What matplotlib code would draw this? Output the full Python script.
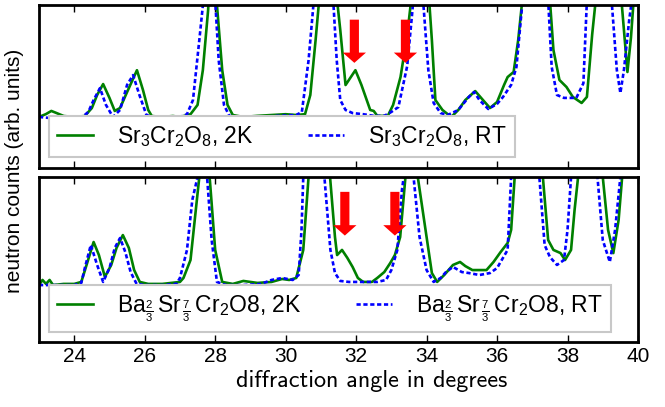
import matplotlib
matplotlib.use("Agg")
import matplotlib.pyplot as plt

plt.rcParams['font.family'] = ['Liberation Sans', 'DejaVu Sans']
plt.rcParams['mathtext.fontset'] = 'custom'
plt.rcParams['mathtext.rm'] = 'Liberation Sans'
plt.rcParams['mathtext.it'] = 'Liberation Sans:italic'
plt.rcParams['mathtext.default'] = 'regular'

# diffraction angle (deg) vs neutron counts (arb. units), Sr3Cr2O8
sr_2k_angle = [23.0, 23.2, 23.35, 23.5, 23.7, 24.0, 24.3, 24.5, 24.65, 24.82, 25.0, 25.15, 25.3, 25.5,
               25.78, 25.95, 26.1, 26.2, 26.5, 26.8, 27.0, 27.3, 27.5, 27.65, 27.8, 27.9, 28.05, 28.2,
               28.35, 28.5, 28.8, 29.2, 29.6, 30.0, 30.3, 30.55, 30.7, 30.85, 31.0, 31.2, 31.4, 31.55,
               31.7, 31.85, 31.98, 32.15, 32.4, 32.5, 32.6, 32.9, 33.05, 33.26, 33.45, 33.6, 33.8,
               34.05, 34.15, 34.25, 34.45, 34.7, 34.9, 35.1, 35.38, 35.6, 35.8, 36.0, 36.2, 36.3,
               36.47, 36.6, 36.75, 36.95, 37.2, 37.5, 37.6, 37.77, 37.97, 38.15, 38.4, 38.55, 38.7,
               38.8, 39.1, 39.4, 39.53, 39.7, 39.8, 39.9, 40.0]
sr_2k_counts = [31.3, 33.1, 35.0, 33.7, 31.9, 31.3, 31.9, 36.8, 44.8, 51.5, 43.0, 35.0, 36.8, 46.6,
                60.0, 47.9, 35.6, 31.9, 31.3, 31.9, 31.3, 33.0, 38.7, 60.0, 97.0, 140, 100, 60.0,
                38.7, 32.5, 31.3, 32.0, 32.5, 33.0, 32.5, 33.0, 44.8, 78.5, 115, 140, 115, 84.7,
                50.9, 55.8, 60.0, 51.0, 35.6, 35.0, 32.0, 32.0, 38.7, 55.8, 81.6, 110, 140,
                110, 78.5, 41.7, 35.6, 31.3, 35.6, 41.7, 47.2, 41.7, 36.8, 40.5, 51.0, 55.8,
                58.9, 78.5, 110, 140, 140, 103, 72.4, 54.0, 49.7, 43.6, 39.9, 43.6, 82.0,
                103, 140, 140, 103, 58.9, 80.0, 110, 140]

sr_rt_angle = [23.0, 23.3, 23.6, 23.8, 24.0, 24.2, 24.4, 24.55, 24.73, 24.9, 25.1, 25.3, 25.5, 25.67,
               25.85, 26.05, 26.3, 26.7, 27.0, 27.2, 27.37, 27.55, 27.7, 27.85, 28.0, 28.1, 28.25,
               28.4, 28.7, 29.2, 29.8, 30.3, 30.46, 30.65, 30.8, 31.0, 31.2, 31.35, 31.45, 31.55,
               31.7, 31.9, 32.2, 32.5, 32.8, 33.0, 33.2, 33.45, 33.6, 33.75, 33.9, 34.05, 34.2,
               34.4, 34.6, 34.9, 35.2, 35.35, 35.5, 35.75, 36.0, 36.17, 36.4, 36.55, 36.7, 36.85,
               37.2, 37.45, 37.55, 37.7, 37.9, 38.25, 38.45, 38.55, 38.8, 39.25, 39.4, 39.5, 39.6,
               39.75, 39.9, 40.0]
sr_rt_counts = [31.3, 30.7, 29.4, 28.2, 29.4, 30.7, 34.4, 41.7, 49.0, 38.7, 31.3, 35.6, 51.0, 57.0,
                44.8, 32.5, 30.7, 31.3, 31.3, 33.0, 41.7, 78.5, 110, 140, 103, 66.0, 38.7,
                32.0, 31.3, 31.3, 32.0, 32.5, 34.4, 66.0, 103, 140, 140, 103, 66.0, 41.7,
                35.6, 33.7, 33.0, 32.0, 32.0, 34.4, 37.4, 62.6, 97.0, 140, 103, 60.0, 39.9,
                33.7, 32.5, 35.6, 43.6, 46.6, 41.7, 36.2, 39.3, 43.6, 51.0, 62.0, 97.0, 140,
                140, 103, 62.0, 44.8, 43.0, 43.0, 52.0, 103, 140, 103, 60.0, 46.0, 60.0,
                90.8, 115, 140]

# Ba2/3 Sr7/3 Cr2O8
ba_2k_angle = [23.0, 23.1, 23.2, 23.3, 23.4, 23.7, 24.0, 24.2, 24.35, 24.55, 24.7, 24.87, 25.05, 25.2,
               25.38, 25.55, 25.7, 25.86, 26.1, 26.5, 27.0, 27.1, 27.3, 27.45, 27.55, 27.7, 27.85,
               28.0, 28.2, 28.5, 28.8, 29.2, 29.6, 29.9, 30.1, 30.3, 30.5, 30.65, 30.8, 31.1, 31.26,
               31.4, 31.46, 31.6, 31.75, 31.9, 32.05, 32.2, 32.45, 32.6, 32.8, 32.97, 33.1, 33.25,
               33.4, 33.55, 33.75, 34.0, 34.15, 34.3, 34.5, 34.75, 34.95, 35.1, 35.3, 35.7, 35.9,
               36.1, 36.3, 36.4, 36.5, 36.7, 37.1, 37.3, 37.45, 37.6, 37.8, 37.93, 38.1, 38.2, 38.3,
               38.6, 39.0, 39.15, 39.3, 39.45, 39.55, 39.8, 40.0]
ba_2k_counts = [34.5, 37.6, 35.2, 37.6, 34.5, 35.2, 35.2, 36.4, 46.7, 60.6, 52.7, 39.4, 46.7, 57.0,
                64.8, 57.0, 43.6, 36.4, 35.2, 35.2, 36.4, 38.8, 49.7, 80.0, 100, 116, 98.0,
                55.8, 36.4, 35.2, 37.0, 35.8, 36.4, 38.2, 37.6, 38.8, 55.8, 100, 140, 140, 100,
                63.6, 52.7, 55.8, 51.0, 45.5, 38.8, 36.4, 36.4, 38.8, 42.4, 47.9, 52.7, 63.6,
                100, 140, 100, 63.6, 41.8, 36.4, 40.6, 46.7, 48.5, 46.0, 43.6, 43.6, 48.5,
                54.5, 60.0, 68.0, 100, 140, 140, 100, 61.8, 55.8, 53.9, 49.7, 55.8, 80.0, 100,
                140, 100, 68.0, 53.9, 74.0, 100, 140, 140]

ba_rt_angle = [23.0, 23.5, 24.0, 24.2, 24.3, 24.47, 24.65, 24.82, 25.0, 25.15, 25.3, 25.45, 25.6,
               25.77, 26.0, 26.5, 26.9, 27.0, 27.2, 27.35, 27.5, 27.6, 27.77, 27.9, 28.05, 28.3,
               28.8, 29.3, 29.6, 29.9, 30.2, 30.37, 30.45, 30.5, 30.7, 31.0, 31.1, 31.27, 31.4,
               31.55, 31.8, 32.2, 32.6, 32.85, 33.0, 33.17, 33.3, 33.35, 33.5, 33.63, 33.8, 34.0,
               34.2, 34.4, 34.55, 34.75, 35.0, 35.2, 35.5, 35.8, 36.0, 36.1, 36.3, 36.4, 36.6,
               37.0, 37.2, 37.35, 37.5, 37.7, 37.9, 38.0, 38.1, 38.4, 38.85, 39.0, 39.2, 39.35,
               39.5, 39.7, 40.0]
ba_rt_counts = [34.5, 34.5, 34.5, 35.8, 44.8, 58.8, 46.7, 36.4, 44.8, 57.0, 63.0, 54.5, 42.4,
                35.2, 34.5, 34.5, 35.2, 38.8, 55.8, 86.0, 100, 140, 100, 61.8, 36.4, 34.5,
                34.5, 35.2, 37.6, 38.8, 37.6, 40.6, 68.0, 100, 140, 140, 100, 55.8, 41.8,
                37.0, 36.4, 36.4, 36.4, 37.6, 43.6, 55.8, 92.0, 100, 140, 100, 63.6, 43.6,
                36.4, 38.8, 42.4, 45.5, 42.4, 41.8, 40.6, 41.8, 44.8, 48.5, 55.8, 100, 140,
                140, 100, 58.8, 51.5, 46.7, 49.7, 68.0, 100, 140, 100, 61.8, 48.5, 68.0,
                100, 140, 140]

# red arrows marking the extra magnetic reflections
top_arrow_angle = [31.95, 33.4]
bottom_arrow_angle = [31.68, 33.1]

top_labels = [r'Sr$_3$Cr$_2$O$_8$, 2K', r'Sr$_3$Cr$_2$O$_8$, RT']
bottom_labels = [r'Ba$_{\frac{2}{3}}\,$Sr$_{\,\frac{7}{3}}\,$Cr$_2$O8, 2K',
                 r'Ba$_{\frac{2}{3}}\,$Sr$_{\,\frac{7}{3}}\,$Cr$_2$O8, RT']

fig = plt.figure(figsize=(6.65, 4.07), dpi=100)
W, H = 665.0, 407.0
ax1 = fig.add_axes([39 / W, 1 - 168 / H, 599 / W, 163 / H])
ax2 = fig.add_axes([39 / W, 1 - 342 / H, 599 / W, 165 / H])

panels = [
    (ax1, sr_2k_angle, sr_2k_counts, sr_rt_angle, sr_rt_counts, top_arrow_angle, top_labels,
     (0.017, 0.067)),
    (ax2, ba_2k_angle, ba_2k_counts, ba_rt_angle, ba_rt_counts, bottom_arrow_angle, bottom_labels,
     (0.017, 0.06)),
]

for ax, gx, gy, bx, by, arrows, labels, legpos in panels:
    ax.plot(gx, gy, color='g', lw=1.9, label=labels[0])
    ax.plot(bx, by, color='b', lw=1.9, dashes=(1.6, 1.0), label=labels[1])
    for a in arrows:
        ax.arrow(a, 91, 0, -26.5, width=0.26, head_width=0.66, head_length=6.3,
                 length_includes_head=True, color='red', lw=0, zorder=5)
    ax.set_xlim(23, 40)
    ax.set_ylim(0, 100)
    ax.set_yticks([])
    ax.set_xticks(range(24, 41, 2))
    ax.tick_params(axis='x', direction='in', top=True, length=5, width=1, labelsize=15)
    for s in ax.spines.values():
        s.set_linewidth(2)
    leg = ax.legend(loc='lower left', bbox_to_anchor=legpos, ncol=2, fontsize=16.5,
                    handlelength=1.55, handletextpad=1.05, columnspacing=2.4,
                    borderpad=0.35, fancybox=False, framealpha=1, borderaxespad=0)
    leg.get_frame().set_edgecolor('#c8c8c8')
    leg.get_frame().set_linewidth(1.5)

ax1.tick_params(axis='x', labelbottom=False)

fig.text(372 / W, 1 - 381 / H, 'diffraction angle in degrees', family='cmss10',
         fontsize=17.4, ha='center', va='center')
fig.text(15 / W, 1 - 171 / H, 'neutron counts (arb. units)', fontsize=15,
         rotation=90, ha='center', va='center')

fig.savefig('out.png', dpi=100)
